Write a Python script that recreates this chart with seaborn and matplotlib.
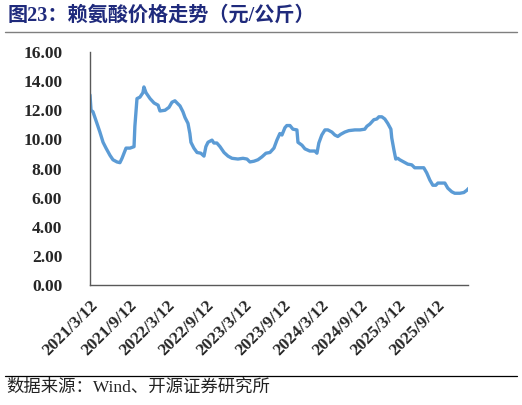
import matplotlib
matplotlib.use('Agg')
import matplotlib.pyplot as plt
import matplotlib.dates as mdates
import seaborn as sns
import pandas as pd
from matplotlib.lines import Line2D

# 数据：赖氨酸价格（元/公斤）
fechas = [
    '2021-03-12', '2021-03-17', '2021-03-26', '2021-04-14', '2021-04-28', '2021-05-13',
    '2021-05-27', '2021-06-15', '2021-06-29', '2021-07-18', '2021-08-01', '2021-08-11',
    '2021-08-30', '2021-09-18', '2021-10-07', '2021-10-11', '2021-10-21', '2021-11-04',
    '2021-11-18', '2021-11-23', '2021-12-03', '2021-12-22', '2022-01-10', '2022-01-29',
    '2022-02-07', '2022-03-03', '2022-03-22', '2022-04-05', '2022-04-19', '2022-04-29',
    '2022-05-13', '2022-05-27', '2022-06-06', '2022-06-20', '2022-06-29', '2022-07-04',
    '2022-07-18', '2022-08-02', '2022-08-20', '2022-09-04', '2022-09-13', '2022-09-23',
    '2022-10-12', '2022-10-21', '2022-11-04', '2022-11-19', '2022-12-08', '2022-12-27',
    '2023-01-15', '2023-02-12', '2023-03-08', '2023-03-27', '2023-04-10', '2023-04-29',
    '2023-05-18', '2023-06-06', '2023-06-25', '2023-07-14', '2023-08-02', '2023-08-16',
    '2023-08-30', '2023-09-09', '2023-09-23', '2023-10-02', '2023-10-17', '2023-10-31',
    '2023-11-19', '2023-11-24', '2023-12-13', '2023-12-27', '2024-01-19', '2024-02-12',
    '2024-02-22', '2024-03-02', '2024-03-16', '2024-03-31', '2024-04-14', '2024-05-03',
    '2024-05-17', '2024-05-31', '2024-06-14', '2024-07-03', '2024-07-22', '2024-08-20',
    '2024-09-13', '2024-10-06', '2024-10-16', '2024-10-30', '2024-11-18', '2024-12-02',
    '2024-12-12', '2024-12-26', '2025-01-09', '2025-01-23', '2025-02-07', '2025-02-11',
    '2025-02-21', '2025-03-02', '2025-03-12', '2025-03-21', '2025-04-09', '2025-04-28',
    '2025-05-17', '2025-05-31', '2025-06-24', '2025-07-13', '2025-07-27', '2025-08-11',
    '2025-08-25', '2025-09-08', '2025-09-18', '2025-10-07', '2025-10-21', '2025-11-04',
    '2025-11-23', '2025-12-07', '2025-12-31', '2026-01-19', '2026-02-02', '2026-02-12',
]
precios = [
    13.05, 12.0, 11.9, 11.1, 10.5, 9.8,
    9.4, 8.9, 8.6, 8.45, 8.4, 8.7,
    9.4, 9.4, 9.5, 10.9, 12.8, 12.9,
    13.2, 13.6, 13.2, 12.8, 12.5, 12.35,
    11.95, 12.0, 12.2, 12.55, 12.65, 12.5,
    12.3, 11.9, 11.5, 11.1, 10.4, 9.8,
    9.4, 9.1, 9.05, 8.85, 9.5, 9.8,
    9.95, 9.75, 9.75, 9.5, 9.1, 8.85,
    8.7, 8.65, 8.7, 8.65, 8.45, 8.5,
    8.6, 8.8, 9.05, 9.1, 9.4, 9.95,
    10.4, 10.3, 10.8, 10.95, 10.95, 10.7,
    10.65, 9.8, 9.6, 9.35, 9.2, 9.2,
    9.05, 9.75, 10.3, 10.65, 10.65, 10.5,
    10.3, 10.2, 10.35, 10.5, 10.6, 10.65,
    10.65, 10.7, 10.9, 11.05, 11.35, 11.4,
    11.55, 11.55, 11.4, 11.1, 10.7, 10.1,
    9.3, 8.65, 8.7, 8.6, 8.45, 8.3,
    8.25, 8.05, 8.05, 8.05, 7.7, 7.2,
    6.85, 6.85, 7.0, 7.0, 7.0, 6.65,
    6.4, 6.3, 6.3, 6.35, 6.5, 6.65,
]
y_ticks = [0, 2, 4, 6, 8, 10, 12, 14, 16]

titulo = '图23：赖氨酸价格走势（元/公斤）'
fuente = '数据来源：Wind、开源证券研究所'

df = pd.DataFrame({'fecha': pd.to_datetime(fechas), 'precio': precios})

sns.set_style('white')
plt.rcParams['font.family'] = ['Liberation Serif', 'Noto Sans CJK SC']

fig = plt.figure(figsize=(5.22, 4.05), dpi=100)
ax = fig.add_axes([0.1724, 0.2963, 0.7242, 0.5753])

sns.lineplot(data=df, x='fecha', y='precio', ax=ax, color='#5B9BD5', linewidth=2.4)

ax.set_xlim(pd.Timestamp('2021-03-12'), pd.Timestamp('2026-02-08'))
ax.set_ylim(0, 16)
ax.set_yticks(y_ticks)
ax.set_yticklabels([f'{v:.2f}' for v in y_ticks], fontsize=12.5, fontweight='bold',
                   family='Liberation Serif')

x_ticks = pd.date_range('2021-03-12', periods=10, freq=pd.DateOffset(months=6))
ax.set_xticks(mdates.date2num(x_ticks))
ax.set_xticklabels([f'{d.year}/{d.month}/{d.day}' for d in x_ticks], rotation=45,
                   ha='right', rotation_mode='anchor', fontsize=12.5, fontweight='bold',
                   family='Liberation Serif')
ax.set_xlabel('')
ax.set_ylabel('')

for lado in ['top', 'right']:
    ax.spines[lado].set_visible(False)
for lado in ['left', 'bottom']:
    ax.spines[lado].set_color('#595959')
    ax.spines[lado].set_linewidth(1.0)
ax.tick_params(axis='both', direction='in', length=4, width=0.8, color='#595959')
ax.tick_params(axis='y', pad=20)
ax.tick_params(axis='x', pad=9)
ax.grid(False)

# Título y fuente
fig.text(0.015, 0.962, titulo, fontsize=14.5, fontweight='bold', color='#1F2A7C',
         family=['Liberation Serif', 'Noto Sans CJK SC'], va='center', ha='left')
fig.add_artist(Line2D([0.01, 0.99], [0.922, 0.922], color='#7f7f7f', linewidth=1.0))
fig.add_artist(Line2D([0.01, 0.99], [0.072, 0.072], color='#000000', linewidth=0.9))
fig.text(0.012, 0.043, fuente, fontsize=12.5, color='#222222',
         family=['Liberation Serif', 'Noto Sans CJK SC'], va='center', ha='left')

fig.savefig('out.png', dpi=100)
plt.close(fig)
